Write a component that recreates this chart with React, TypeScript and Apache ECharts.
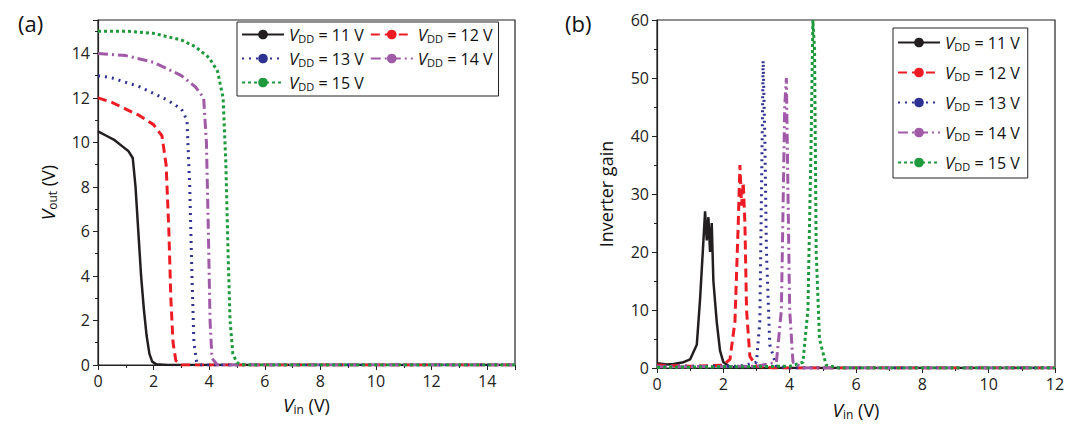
import { useEffect, useRef } from 'react';
import * as echarts from 'echarts';

const vddNames = ['11', '12', '13', '14', '15'];
const colors = ['#231f20', '#ed1c24', '#2e3192', '#a05aa8', '#1e9a3c'];
const dashes: any[] = ['solid', [9, 5], [2, 5], [10, 4, 2, 4], [3, 3]];

const vout11 = [[0,10.5],[0.3,10.3],[0.6,10.1],[0.9,9.8],[1.1,9.6],[1.25,9.3],[1.35,8],[1.45,6],[1.55,4],[1.65,2.5],[1.75,1.3],[1.85,0.5],[1.95,0.15],[2.1,0.03],[2.5,0],[15,0]];
const vout12 = [[0,12],[0.5,11.8],[1,11.5],[1.5,11.2],[2,10.8],[2.3,10.3],[2.45,9],[2.55,6],[2.62,3],[2.7,1],[2.8,0.2],[3,0],[15,0]];
const vout13 = [[0,13],[0.5,12.9],[1,12.7],[1.5,12.5],[2,12.2],[2.5,11.9],[3,11.5],[3.2,11],[3.3,8],[3.38,4],[3.45,1],[3.55,0.1],[3.7,0],[15,0]];
const vout14 = [[0,14],[1,13.9],[2,13.6],[2.5,13.3],[3,13],[3.5,12.5],[3.8,12],[3.9,10],[3.97,6],[4.03,2],[4.1,0.3],[4.3,0],[15,0]];
const vout15 = [[0,15],[1,15],[2,14.9],[3,14.6],[3.5,14.3],[4,13.8],[4.3,13.2],[4.5,12],[4.6,9],[4.68,5],[4.75,2],[4.85,0.5],[5,0.1],[5.3,0],[15,0]];

const gain11 = [[0,0.8],[0.3,0.6],[0.5,0.7],[0.8,1],[1,1.5],[1.2,4],[1.3,12],[1.4,22],[1.45,27],[1.5,22],[1.55,26],[1.6,20],[1.65,25],[1.7,15],[1.8,8],[1.9,3],[2,1],[2.2,0.2],[2.5,0],[12,0]];
const gain12 = [[0,0.5],[1,0.3],[2,0.5],[2.2,1.5],[2.35,8],[2.45,25],[2.5,35],[2.55,28],[2.6,32],[2.65,25],[2.7,10],[2.8,2],[3,0.3],[3.5,0],[12,0]];
const gain13 = [[0,0.3],[2.5,0.3],[3,1],[3.1,8],[3.15,30],[3.2,53],[3.25,40],[3.3,20],[3.4,4],[3.6,0.3],[4,0],[12,0]];
const gain14 = [[0,0.2],[3,0.3],[3.6,1],[3.75,10],[3.85,45],[3.9,50],[3.95,30],[4,10],[4.1,1],[4.4,0],[12,0]];
const gain15 = [[0,0.1],[4,0.3],[4.4,1],[4.55,10],[4.65,40],[4.7,60],[4.75,55],[4.8,20],[4.9,5],[5.1,0.5],[5.5,0],[12,0]];

const voutData = [vout11, vout12, vout13, vout14, vout15];
const gainData = [gain11, gain12, gain13, gain14, gain15];

const font = 'Open Sans';
const rich = {
  i: { fontStyle: 'italic', fontSize: 17, fontFamily: font, color: '#111' },
  s: { fontSize: 11, fontFamily: font, color: '#111', padding: [8, 0, 0, 0] },
  t: { fontSize: 16, fontFamily: font, color: '#111' },
};
const nameRich = { ...rich, s: { ...rich.s, fontSize: 12 }, i: { ...rich.i, fontSize: 19 }, t: { ...rich.t, fontSize: 18 } };
const legendFmt = (n: string) => '{i|V}{s|DD}{t| = ' + n.replace(/^[ab]/, '') + ' V}';

function axisBase(gi: number) {
  return {
    gridIndex: gi,
    axisLine: { show: true, onZero: false, lineStyle: { color: '#222', width: 1.2 } },
    axisTick: { show: true, length: 5, lineStyle: { color: '#222' } },
    minorTick: { show: true, splitNumber: 2, length: 3, lineStyle: { color: '#222' } },
    splitLine: { show: false },
    axisLabel: { fontSize: 16, fontFamily: font, color: '#222' },
  };
}

export default function App() {
  const el = useRef<HTMLDivElement>(null);
  useEffect(() => {
    if (!el.current) return;
    const chart = echarts.init(el.current, null, { renderer: 'svg' });
    const series: any[] = [];
    vddNames.forEach((n, i) => {
      const common = {
        type: 'line', showSymbol: false, symbol: 'none', color: colors[i],
        lineStyle: { width: i === 0 ? 2.5 : 3, type: dashes[i], color: colors[i] },
      };
      series.push({ ...common, name: 'a' + n, xAxisIndex: 0, yAxisIndex: 0, data: voutData[i] });
      series.push({ ...common, name: 'b' + n, xAxisIndex: 1, yAxisIndex: 1, data: gainData[i] });
    });
    chart.setOption({
      animation: false,
      grid: [
        { left: 90, top: 12, width: 417, height: 345, show: true, borderColor: '#222', borderWidth: 1.2 },
        { left: 649, top: 12, width: 398, height: 348, show: true, borderColor: '#222', borderWidth: 1.2 },
      ],
      xAxis: [
        { ...axisBase(0), type: 'value', min: 0, max: 15, interval: 2,
          axisLabel: { ...axisBase(0).axisLabel, formatter: (v: number) => (v > 14 ? '' : v) },
          name: '{i|V}{s|in}{t| (V)}', nameLocation: 'middle', nameGap: 30, nameTextStyle: { rich: nameRich } },
        { ...axisBase(1), type: 'value', min: 0, max: 12, interval: 2,
          name: '{i|V}{s|in}{t| (V)}', nameLocation: 'middle', nameGap: 32, nameTextStyle: { rich: nameRich } },
      ],
      yAxis: [
        { ...axisBase(0), type: 'value', min: 0, max: 15.5, interval: 2,
          axisLabel: { ...axisBase(0).axisLabel, formatter: (v: number) => (v > 14 ? '' : v) },
          name: '{i|V}{s|out}{t| (V)}', nameLocation: 'middle', nameGap: 40, nameRotate: 90, nameTextStyle: { rich: nameRich } },
        { ...axisBase(1), type: 'value', min: 0, max: 60, interval: 10,
          name: 'Inverter gain', nameLocation: 'middle', nameGap: 42, nameRotate: 90,
          nameTextStyle: { fontSize: 18, fontFamily: font, color: '#111' } },
      ],
      legend: [
        { data: vddNames.map((n) => 'a' + n), left: 229, top: 14, width: 262, orient: 'horizontal',
          itemWidth: 42, itemHeight: 12, itemGap: 6, padding: [4, 6, 4, 4], borderColor: '#222', borderWidth: 1,
          backgroundColor: '#fff', formatter: legendFmt, textStyle: { rich } },
        { data: vddNames.map((n) => 'b' + n), left: 885, top: 20, orient: 'vertical',
          itemWidth: 42, itemHeight: 12, itemGap: 12, padding: [6, 8, 6, 4], borderColor: '#222', borderWidth: 1,
          backgroundColor: '#fff', formatter: legendFmt, textStyle: { rich } },
      ],
      graphic: [
        { type: 'text', left: 10, top: 4, style: { text: '(a)', font: '22px "Open Sans"', fill: '#111' } },
        { type: 'text', left: 557, top: 4, style: { text: '(b)', font: '22px "Open Sans"', fill: '#111' } },
      ],
      series,
    });
    return () => chart.dispose();
  }, []);
  return <div ref={el} style={{ width: 1064, height: 431 }} />;
}
